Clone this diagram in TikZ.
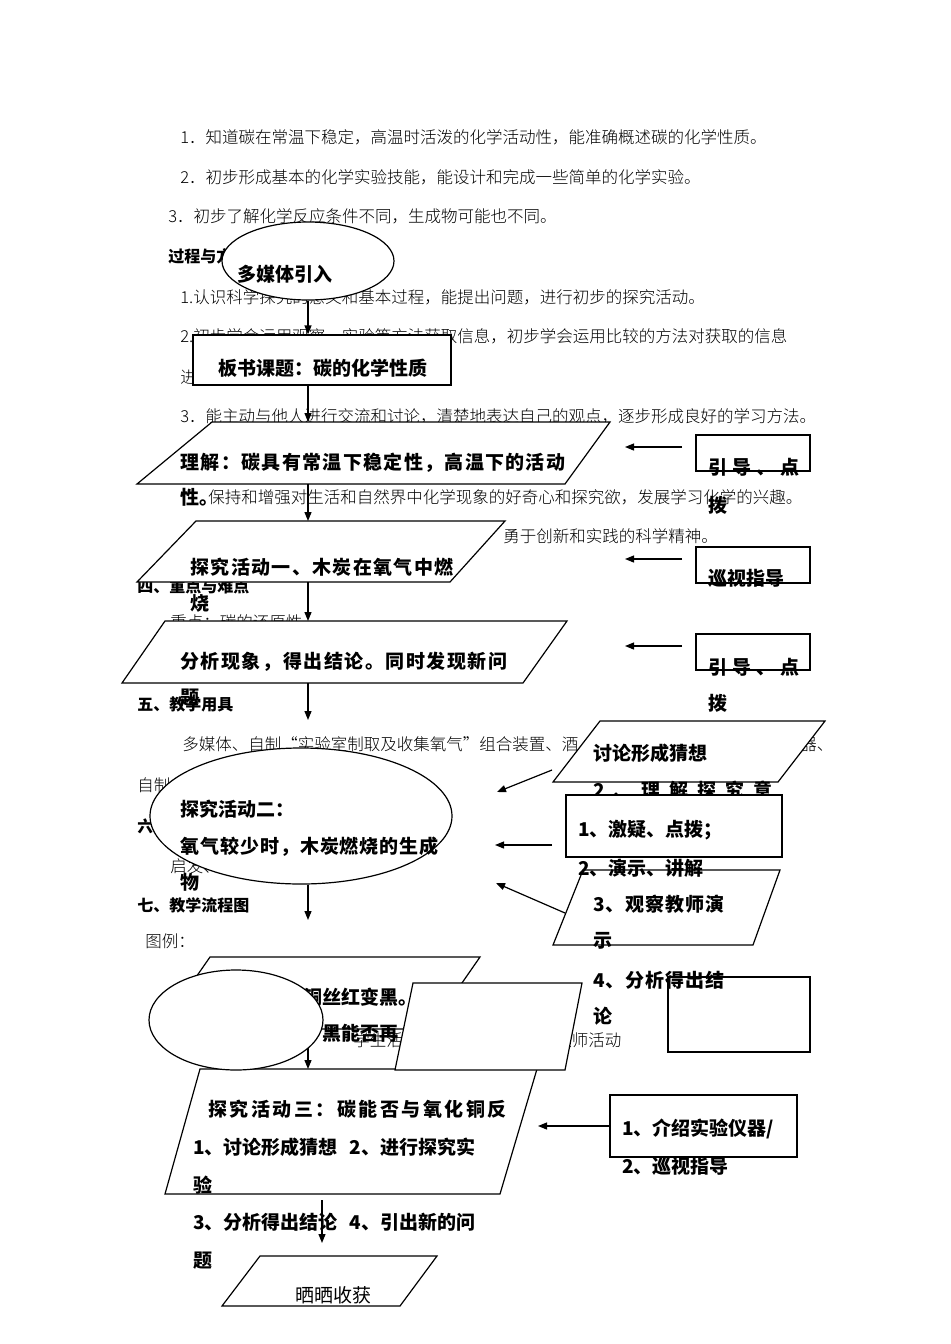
\documentclass[tikz,border=0pt]{standalone}
\usepackage{fontspec}
\setmainfont{Liberation Serif}
\newfontfamily\heiti{Noto Sans CJK SC}
\newfontfamily\songti{Noto Sans CJK SC Light}
\newcommand{\ls}[1]{\addfontfeature{LetterSpace=#1}}
\usetikzlibrary{shapes.geometric, arrows.meta, positioning}

\begin{document}
\begin{tikzpicture}[x=0.5pt, y=-0.5pt,
						every node/.style = {inner sep=0pt},
						bg/.style = {anchor=base west, font=\songti\fontsize{8.25pt}{9pt}\selectfont},
						hd/.style = {anchor=base west, font=\heiti\bfseries\fontsize{8pt}{9pt}\selectfont},
						lab/.style = {anchor=base west, font=\heiti\bfseries\fontsize{9.5pt}{11pt}\selectfont},
						box/.style = {rectangle, draw, fill=white, line width=0.6pt},
						oval/.style = {ellipse, draw, fill=white, line width=0.6pt},
						para/.style = {draw, fill=white, line width=0.6pt},
						line/.style = {-{Triangle[length=4.5pt, width=3.5pt]}, line width=0.6pt}
						]
	\useasboundingbox (0,0) rectangle (950,1344);

	% --- 正文（底层文字） ---
	\node[bg] (g1) at (180,143) {1．知道碳在常温下稳定，高温时活泼的化学活动性，能准确概述碳的化学性质。};
	\node[bg] (g2) at (180,183) {2．初步形成基本的化学实验技能，能设计和完成一些简单的化学实验。};
	\node[bg] (g3) at (168,222) {3．初步了解化学反应条件不同，生成物可能也不同。};
	\node[hd] (h1) at (168,262) {过程与方法};
	\node[bg] (g4) at (180,303) {1.认识科学探究的意义和基本过程，能提出问题，进行初步的探究活动。};
	\node[bg] (g5) at (180,342) {2.初步学会运用观察、实验等方法获取信息，初步学会运用比较的方法对获取的信息};
	\node[bg] (g6) at (180,383) {进};
	\node[bg] (g7) at (180,422) {3．能主动与他人进行交流和讨论，清楚地表达自己的观点，逐步形成良好的学习方法。};
	\node[bg] (g8) at (208,503) {保持和增强对生活和自然界中化学现象的好奇心和探究欲，发展学习化学的兴趣。};
	\node[bg] (g9) at (503,542) {勇于创新和实践的科学精神。};
	\node[hd] (h2) at (137,592) {四、重点与难点};
	\node[bg] (g10) at (170,628) {重点：碳的还原性};
	\node[hd] (h3) at (137,710) {五、教学用具};
	\node[bg] (g11) at (182,750) {多媒体、自制“实验室制取及收集氧气”组合装置、酒};
	\node[bg] (g12) at (800,750) {器、};
	\node[bg] (g13) at (137,791) {自制};
	\node[hd] (h4) at (137,832) {六、};
	\node[bg] (g14) at (170,872) {启发、};
	\node[hd] (h5) at (137,911) {七、教学流程图};
	\node[bg] (g15) at (145,947) {图例：};
	\node[bg] (xs) at (353,1046) {学生活动};
	\node[bg] (js) at (555,1046) {教师活动};

	% --- 流程图形 ---
	\node[oval, minimum width=86pt, minimum height=39pt] (yinru) at (308,261) {};
	\node[box, minimum width=129pt, minimum height=25pt] (banshu) at (322,360) {};
	\draw[para] (137,484) -- (565,484) -- (610,422) -- (212,422) -- cycle;
	\coordinate (lj-n) at (308,422);
	\coordinate (lj-s) at (308,484);
	\draw[para] (137,582) -- (450,582) -- (505,521) -- (196,521) -- cycle;
	\coordinate (tj1-n) at (308,521);
	\coordinate (tj1-s) at (308,582);
	\draw[para] (122,683) -- (523,683) -- (567,621) -- (165,621) -- cycle;
	\coordinate (fx-n) at (308,621);
	\coordinate (fx-s) at (308,683);
	\coordinate (tj2-in) at (308,720);
	\node[oval, minimum width=151pt, minimum height=68pt] (tj2) at (301,816) {};
	\coordinate (tj2-out) at (308,920);
	\draw[para] (160,1029) -- (430,1029) -- (480,957) -- (210,957) -- cycle;
	\coordinate (ts-s) at (308,1029);
	\draw[para] (165,1194) -- (500,1194) -- (537,1069) -- (200,1069) -- cycle;
	\coordinate (tj3-n) at (308,1069);
	\coordinate (tj3-out) at (322,1200);
	\draw[para] (222,1306) -- (400,1306) -- (437,1256) -- (260,1256) -- cycle;
	\coordinate (sh-n) at (322,1243);

	% --- 右侧教师活动 ---
	\node[box, minimum width=57pt, minimum height=18pt] (yd1) at (753,453) {};
	\node[box, minimum width=57pt, minimum height=18pt] (xz1) at (753,565) {};
	\node[box, minimum width=57pt, minimum height=18pt] (yd2) at (753,652) {};
	\draw[para] (553,782) -- (778,782) -- (825,721) -- (600,721) -- cycle;

	% --- 文字 ---
	\node[lab] (t-yinru) at (237,281) {多媒体引入};
	\node[lab] (t-banshu) at (218,375) {板书课题：碳的化学性质};
	\node[lab] (t-lj1) at (180,469) {\ls{7}理解：碳具有常温下稳定性，高温下的活动};
	\node[lab] (t-lj2) at (180,504) {性。};
	\node[lab] (t-tj1a) at (190,574) {\ls{7}探究活动一、木炭在氧气中燃};
	\node[lab] (t-tj1b) at (190,610) {烧};
	\node[lab] (t-fxa) at (180,668) {\ls{8}分析现象，得出结论。同时发现新问};
	\node[lab] (t-fxb) at (180,704) {题};
	\node[lab] (t-tj2a) at (180,816) {探究活动二：};
	\node[lab] (t-tj2b) at (180,853) {\ls{5}氧气较少时，木炭燃烧的生成};
	\node[lab] (t-tj2c) at (180,889) {物};
	\node[lab] (t-ts1) at (303,1004) {铜丝红变黑。};
	\node[lab] (t-ts2) at (322,1040) {黑能否再};
	\node[lab] (t-tj3a) at (208,1116) {\ls{13}探究活动三：碳能否与氧化铜反};
	\node[lab] (t-tj3b) at (193,1154) {1、讨论形成猜想\hspace{6pt}2、进行探究实};
	\node[lab] (t-tj3c) at (193,1192) {验};
	\node[lab] (t-tj3d) at (193,1229) {3、分析得出结论\hspace{6pt}4、引出新的问};
	\node[lab] (t-tj3e) at (193,1267) {题};
	\node[lab, font=\heiti\fontsize{9.5pt}{11pt}\selectfont] (t-sh) at (295,1302) {晒晒收获};
	\node[lab] (t-yd1a) at (708,474) {\ls{26}引导、点};
	\node[lab] (t-yd1b) at (708,512) {拨};
	\node[lab] (t-xz1) at (708,585) {巡视指导};
	\node[lab] (t-yd2a) at (708,674) {\ls{26}引导、点};
	\node[lab] (t-yd2b) at (708,710) {拨};
	\node[lab] (t-tl1) at (593,760) {讨论形成猜想};
	\node[lab] (t-tl2) at (593,797) {\ls{47}2、理解探究意};

	% --- 连接 ---
	\draw[line] (yinru.south) -- (yinru.south |- banshu.north);
	\draw[line] (yinru.south |- banshu.south) -- (lj-n);
	\draw[line] (lj-s) -- (tj1-n);
	\draw[line] (tj1-s) -- (fx-n);
	\draw[line] (fx-s) -- (tj2-in);
	\draw[line] (tj2.south -| tj2-out) -- (tj2-out);
	\draw[line] (ts-s) -- (tj3-n);
	\draw[line] (tj3-out) -- (sh-n);
	\coordinate (a1s) at (682,447); \coordinate (a1e) at (625,447);
	\coordinate (a2s) at (682,559); \coordinate (a2e) at (625,559);
	\coordinate (a3s) at (682,646); \coordinate (a3e) at (625,646);
	\coordinate (a4s) at (552,770); \coordinate (a4e) at (497,792);
	\coordinate (a5s) at (552,845); \coordinate (a5e) at (495,845);
	\coordinate (a6s) at (565,913); \coordinate (a6e) at (496,883);
	\coordinate (a7e) at (538,1126);
	\draw[line] (a1s) -- (a1e);
	\draw[line] (a2s) -- (a2e);
	\draw[line] (a3s) -- (a3e);
	\draw[line] (a4s) -- (a4e);
	\draw[line] (a5s) -- (a5e);
	\draw[line] (a6s) -- (a6e);

	\node[box, minimum width=108pt, minimum height=31pt] (jy) at (674,826) {};
	\draw[para] (553,945) -- (753,945) -- (780,870) -- (583,870) -- cycle;

	% --- 图例 ---
	\node[oval, minimum width=87pt, minimum height=50pt] (tl-xs) at (236,1020) {};
	\draw[para] (395,1070) -- (565,1070) -- (582,983) -- (413,983) -- cycle;
	\node[box, minimum width=71pt, minimum height=37.5pt] (tl-js) at (739,1014.5) {};

	\node[lab] (t-jy1) at (578,836) {1、激疑、点拨；};
	\node[lab] (t-jy2) at (578,875) {2、演示、讲解};
	\node[lab] (t-gc1) at (593,911) {\ls{5}3、观察教师演};
	\node[lab] (t-gc2) at (593,947) {示};
	\node[lab] (t-gc3) at (593,987) {\ls{5}4、分析得出结};
	\node[lab] (t-gc4) at (593,1023) {论};
	\node[box, minimum width=93.5pt, minimum height=31pt] (js3) at (703.5,1126) {};
	\node[lab] (t-js3a) at (622,1135) {1、介绍实验仪器/};
	\node[lab] (t-js3b) at (622,1173) {2、巡视指导};
	\draw[line] (js3.west) -- (a7e);
\end{tikzpicture}
\end{document}
